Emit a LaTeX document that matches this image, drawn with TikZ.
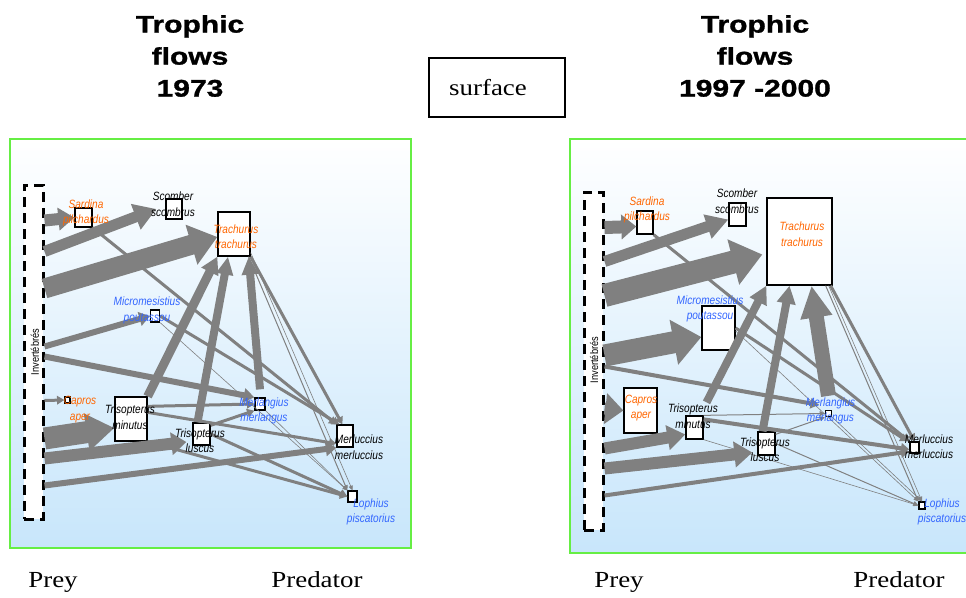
\documentclass[tikz,border=0pt]{standalone}
\usepackage{fontspec}
\setmainfont{Liberation Serif}[FakeStretch=1.17]
\newfontfamily\titlefont{Liberation Sans}[FakeStretch=1.25, FakeBold=1.2]
\newfontfamily\spfont{Liberation Sans}[FakeStretch=0.84]
\usetikzlibrary{arrows.meta}
\usetikzlibrary{calc}
\definecolor{flowgray}{HTML}{808080}
\definecolor{sporange}{HTML}{FF6600}
\definecolor{spblue}{HTML}{3366FF}
\definecolor{framegreen}{HTML}{66EE44}
\definecolor{bgblue}{HTML}{C8E6FB}
\tikzset{
  panel/.style={draw=framegreen, line width=2pt, top color=white, bottom color=bgblue},
  invbox/.style={draw, dash pattern=on 10pt off 6pt, line width=3pt, fill=white,
    minimum width=19pt, minimum height=#1, inner sep=0pt},
  spbox/.style 2 args={draw, line width=1.3pt, fill=white, minimum width=#1,
    minimum height=#2, inner sep=0pt},
  splabel/.style={font=\spfont\itshape\fontsize{12}{15.5}\selectfont, align=center,
    inner sep=0pt, text=#1},
  flow/.style={draw=flowgray, line width=#1, -{Triangle[length=4pt 1.1, width=3pt 1.8]}},
  bigflow/.style n args={3}{draw=flowgray, line width=#1, -{Triangle[length=#3, width=#2]}},
  flowtitle/.style={font=\titlefont\bfseries\fontsize{24}{32}\selectfont, align=center, inner sep=0pt},
  axcap/.style={font=\fontsize{23}{26}\selectfont, inner sep=0pt},
}
\begin{document}
\begin{tikzpicture}[x=1pt,y=-1pt]
\useasboundingbox (0,0) rectangle (966,597);

% headings
\node[flowtitle, anchor=north] (t73) at (190,15) {Trophic\\flows\\1973};
\node[flowtitle, anchor=north] (t97) at (755,15) {Trophic\\flows\\1997 -2000};
\node[draw, line width=1.2pt, minimum width=136pt, minimum height=59pt] (surf) at (497,87.5) {};
\node[axcap, anchor=base] (surftxt) at (488,95) {surface};

% 1973
\path[panel] (10,139) rectangle (411,548);
\node[invbox=334pt] (invA) at (33.5,352) {};
\node[spbox={17pt}{19pt}] (sarA) at (83.5,217.5) {};
\node[spbox={16pt}{20pt}] (scoA) at (174,209) {};
\node[spbox={32pt}{44pt}] (traA) at (234,234) {};
\node[spbox={9pt}{12pt}] (micA) at (155,316) {};
\node[spbox={5pt}{6pt}] (capA) at (67.5,400) {};
\node[spbox={32pt}{44pt}] (tminA) at (131,419) {};
\node[spbox={17pt}{22pt}] (tlusA) at (201.5,434) {};
\node[spbox={10pt}{12pt}] (mlgA) at (260,404) {};
\node[spbox={16pt}{22pt}] (mlcA) at (345,436) {};
\node[spbox={9pt}{11pt}] (lopA) at (352.5,496.5) {};

\draw[bigflow={12pt}{22pt}{16pt}] ($(invA.north east)+(0,37)$) -- (sarA.west);
\draw[bigflow={11pt}{26pt}{22pt}] ($(invA.north east)+(0,68)$) -- ([xshift=-9pt]scoA.west);
\draw[bigflow={20pt}{40pt}{27pt}] ($(invA.north east)+(0,105)$) -- ([yshift=-3pt]traA.west);
\draw[flow=6pt] ($(invA.north east)+(0,163)$) -- (micA.west);
\draw[flow=6pt] ($(invA.north east)+(0,173)$) -- (mlgA.north west);
\draw[flow=3pt] ($(invA.north east)+(0,217)$) -- (capA.west);
\draw[bigflow={22pt}{36pt}{28pt}] ($(invA.north east)+(0,255)$) -- ([yshift=-9pt]tminA.west);
\draw[bigflow={12pt}{22pt}{15pt}] ($(invA.north east)+(0,275)$) -- ([shift={(-6pt,-8pt)}]tlusA.west);
\draw[flow=6pt] ($(invA.north east)+(0,302)$) -- (mlcA.south west);
\draw[bigflow={9pt}{18pt}{17pt}] (tminA.north east) -- (traA.south west);
\draw[bigflow={8pt}{16pt}{18pt}] ([xshift=-4pt]tlusA.north) -- ([xshift=-6pt]traA.south);
\draw[bigflow={8pt}{16pt}{18pt}] ([yshift=8pt]mlgA.north) -- ([xshift=-2pt]traA.south east);
\draw[flow=3pt] (sarA.south east) -- (mlcA.north west);
\draw[flow=3pt] (micA.east) -- ([xshift=3pt]mlcA.north west);
\draw[flow=3pt] (traA.south east) -- ([xshift=6pt]mlcA.north west);
\draw[flow=1pt] ([xshift=-2pt]traA.south east) -- (lopA.north west);
\draw[flow=0.6pt] ([yshift=4pt]traA.south east) -- (lopA.north);
\draw[flow=3pt] ([yshift=-10pt]tminA.north east) -- (mlgA.west);
\draw[flow=3pt] ([yshift=-16pt]tminA.north east) -- ([yshift=4pt]mlcA.south west);
\draw[flow=3pt] (tminA.south east) -- (lopA.west);
\draw[flow=3pt] ([yshift=-3pt]tlusA.north east) -- (mlgA.south west);
\draw[flow=3pt] (tlusA.east) -- (lopA.west);
\draw[flow=0.6pt] (micA.south east) -- (lopA.north west);
\draw[flow=0.6pt] (mlgA.south east) -- (lopA.north west);

\node[rotate=90, font=\spfont\fontsize{11}{12}\selectfont] (invAl) at (35,352) {Invertébrés};
\node[splabel=sporange] (sarAl) at (86,213) {Sardina\\pilchardus};
\node[splabel=black] (scoAl) at (173,204) {Scomber\\scombrus};
\node[splabel=sporange] (traAl) at (236,236.5) {Trachurus\\trachurus};
\node[splabel=spblue] (micAl) at (147,310.5) {Micromesistius\\poutassou};
\node[splabel=sporange] (capAl) at (80,409.5) {Capros\\aper};
\node[splabel=black] (tminAl) at (130,417) {Trisopterus\\minutus};
\node[splabel=black] (tlusAl) at (200,440.5) {Trisopterus\\luscus};
\node[splabel=spblue] (mlgAl) at (264,411) {Merlangius\\merlangus};
\node[splabel=black] (mlcAl) at (359,447) {Merluccius\\merluccius};
\node[splabel=spblue] (lopAl) at (371,512) {Lophius\\piscatorius};

% 1997-2000
\path[panel] (570,139) rectangle (972,553);
\node[invbox=338pt] (invB) at (593.5,361) {};
\node[spbox={16pt}{23pt}] (sarB) at (645,222.5) {};
\node[spbox={17pt}{23pt}] (scoB) at (737.5,214.5) {};
\node[spbox={65pt}{87pt}] (traB) at (799.5,241.5) {};
\node[spbox={33pt}{44pt}] (micB) at (718.5,328) {};
\node[spbox={33pt}{45pt}] (capB) at (640.5,410.5) {};
\node[spbox={17pt}{23pt}] (tminB) at (694.5,427.5) {};
\node[spbox={17pt}{23pt}] (tlusB) at (766.5,443.5) {};
\node[spbox={6pt}{6pt}] (mlgB) at (828.5,413.5) {};
\node[spbox={9pt}{11pt}] (mlcB) at (914.5,447.5) {};
\node[spbox={6pt}{7pt}] (lopB) at (922,505.5) {};

\draw[bigflow={13pt}{24pt}{15pt}] ($(invB.north east)+(0,37)$) -- ([yshift=-4pt]sarB.west);
\draw[bigflow={11pt}{24pt}{22pt}] ($(invB.north east)+(0,71)$) -- ([yshift=-5pt]scoB.west);
\draw[bigflow={23pt}{45pt}{30pt}] ($(invB.north east)+(0,105)$) -- ([shift={(-4pt,-13pt)}]traB.west);
\draw[bigflow={22pt}{44pt}{28pt}] ($(invB.north east)+(0,165)$) -- ([yshift=-9pt]micB.west);
\draw[flow=4pt] ($(invB.north east)+(0,176)$) -- ([shift={(-6pt,5pt)}]mlgB.north west);
\draw[bigflow={12pt}{30pt}{18pt}] ($(invB.north east)+(0,218)$) -- (capB.west);
\draw[bigflow={12pt}{24pt}{18pt}] ($(invB.north east)+(0,258)$) -- ([yshift=-7pt]tminB.west);
\draw[bigflow={12pt}{25pt}{18pt}] ($(invB.north east)+(0,278)$) -- ([shift={(-5pt,-9pt)}]tlusB.west);
\draw[flow=4pt] ($(invB.north east)+(0,305)$) -- ([yshift=-4pt]mlcB.west);
\draw[bigflow={8pt}{18pt}{18pt}] ([shift={(12pt,13pt)}]tminB.north) -- (traB.south west);
\draw[bigflow={8pt}{18pt}{18pt}] ([xshift=-4pt]tlusB.north) -- ([xshift=-10pt]traB.south);
\draw[bigflow={15pt}{30pt}{32pt}] ([yshift=14pt]mlgB.north) -- ([xshift=12pt]traB.south);
\draw[flow=3pt] (sarB.south east) -- (mlcB.north west);
\draw[flow=3pt] (micB.east) -- ([xshift=-2pt]mlcB.north west);
\draw[flow=3pt] ([xshift=-2pt]traB.south east) -- (mlcB.north);
\draw[flow=1pt] ([xshift=-7pt]traB.south east) -- (lopB.north west);
\draw[flow=0.6pt] ([xshift=-4pt]traB.south east) -- (lopB.north);
\draw[flow=0.6pt] ([yshift=-3pt]micB.east) -- (lopB.north west);
\draw[flow=1pt] (tminB.north east) -- (mlgB.west);
\draw[flow=4pt] ([yshift=-4pt]tminB.north east) -- ([yshift=-2pt]mlcB.west);
\draw[flow=0.6pt] (tminB.south east) -- (lopB.west);
\draw[flow=1pt] ([yshift=-3pt]tlusB.north east) -- (mlgB.south west);
\draw[flow=1pt] (tlusB.east) -- (lopB.west);
\draw[flow=0.6pt] (mlgB.south east) -- (lopB.north);

\node[rotate=90, font=\spfont\fontsize{11}{12}\selectfont] (invBl) at (594,360) {Invertébrés};
\node[splabel=sporange] (sarBl) at (647,210) {Sardina\\pilchardus};
\node[splabel=black] (scoBl) at (737,201) {Scomber\\scombrus};
\node[splabel=sporange] (traBl) at (802,234) {Trachurus\\trachurus};
\node[splabel=spblue] (micBl) at (710,309) {Micromesistius\\poutassou};
\node[splabel=sporange] (capBl) at (641,408) {Capros\\aper};
\node[splabel=black] (tminBl) at (693,416) {Trisopterus\\minutus};
\node[splabel=black] (tlusBl) at (765,449.5) {Trisopterus\\luscus};
\node[splabel=spblue] (mlgBl) at (830.5,411) {Merlangius\\merlangus};
\node[splabel=black] (mlcBl) at (929,446.5) {Merluccius\\merluccius};
\node[splabel=spblue] (lopBl) at (942,512) {Lophius\\piscatorius};

% axis captions
\node[axcap, anchor=base] (preyA) at (53,587) {Prey};
\node[axcap, anchor=base] (predA) at (317,587) {Predator};
\node[axcap, anchor=base] (preyB) at (619,587) {Prey};
\node[axcap, anchor=base] (predB) at (899,587) {Predator};
\end{tikzpicture}
\end{document}
